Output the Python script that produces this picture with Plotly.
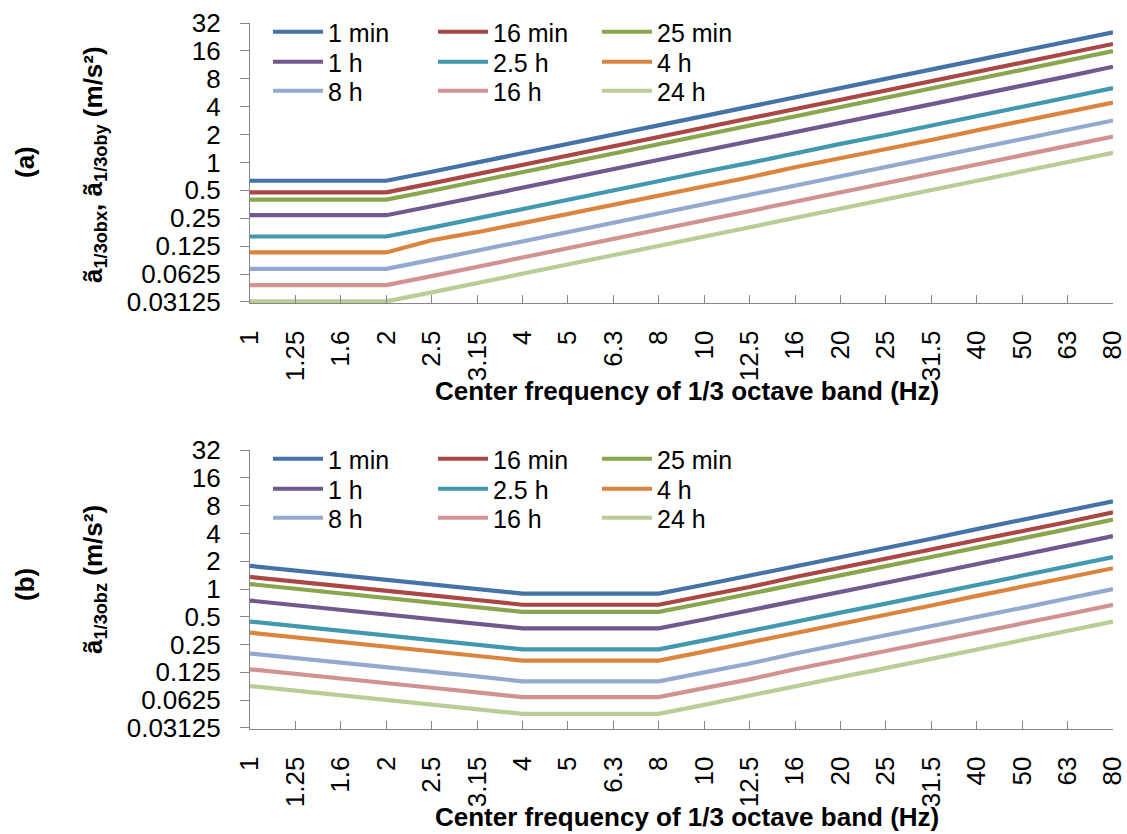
import plotly.graph_objects as go
import math

freq_labels = ["1", "1.25", "1.6", "2", "2.5", "3.15", "4", "5", "6.3", "8",
               "10", "12.5", "16", "20", "25", "31.5", "40", "50", "63", "80"]
series_names = ["1 min", "16 min", "25 min", "1 h", "2.5 h", "4 h", "8 h", "16 h", "24 h"]
colors = ["#4572A7", "#AA4643", "#89A54E", "#71588F", "#4198AF",
          "#DB843D", "#93A9CF", "#D19392", "#B9CD96"]

# Panel (a): horizontal (x, y) reduced-comfort boundaries, m/s^2
a_1min = [0.635, 0.635, 0.635, 0.635, 0.794, 1.0, 1.27, 1.59, 2.0, 2.54, 3.17, 3.97, 5.08, 6.35, 7.94, 10.0, 12.7, 15.9, 20.0, 25.4]
a_16min = [0.476, 0.476, 0.476, 0.476, 0.595, 0.75, 0.952, 1.19, 1.5, 1.9, 2.38, 2.98, 3.81, 4.76, 5.95, 7.5, 9.52, 11.9, 15.0, 19.0]
a_25min = [0.397, 0.397, 0.397, 0.397, 0.496, 0.625, 0.794, 0.99, 1.25, 1.59, 1.98, 2.48, 3.17, 3.97, 4.96, 6.25, 7.94, 9.92, 12.7, 15.9]
a_1h = [0.27, 0.27, 0.27, 0.27, 0.337, 0.425, 0.54, 0.675, 0.85, 1.08, 1.35, 1.69, 2.16, 2.7, 3.37, 4.25, 5.4, 6.75, 8.5, 10.8]
a_2h5 = [0.159, 0.159, 0.159, 0.159, 0.198, 0.25, 0.318, 0.397, 0.5, 0.635, 0.794, 0.99, 1.27, 1.59, 1.98, 2.5, 3.17, 3.97, 5.0, 6.35]
a_4h = [0.107, 0.107, 0.107, 0.107, 0.145, 0.177, 0.222, 0.278, 0.35, 0.444, 0.556, 0.694, 0.889, 1.11, 1.39, 1.75, 2.22, 2.78, 3.5, 4.44]
a_8h = [0.0711, 0.0711, 0.0711, 0.0711, 0.0889, 0.112, 0.142, 0.178, 0.224, 0.284, 0.356, 0.444, 0.569, 0.711, 0.889, 1.12, 1.42, 1.78, 2.24, 2.84]
a_16h = [0.0476, 0.0476, 0.0476, 0.0476, 0.0595, 0.075, 0.0952, 0.119, 0.15, 0.19, 0.238, 0.298, 0.381, 0.476, 0.595, 0.75, 0.952, 1.19, 1.5, 1.9]
a_24h = [0.0317, 0.0317, 0.0317, 0.0317, 0.0397, 0.05, 0.0635, 0.0794, 0.1, 0.127, 0.159, 0.198, 0.254, 0.317, 0.397, 0.5, 0.635, 0.794, 1.0, 1.27]

# Panel (b): vertical (z) reduced-comfort boundaries, m/s^2
b_1min = [1.78, 1.59, 1.41, 1.26, 1.13, 1.0, 0.89, 0.89, 0.89, 0.89, 1.11, 1.39, 1.78, 2.22, 2.78, 3.5, 4.45, 5.56, 7.0, 8.9]
b_16min = [1.35, 1.21, 1.07, 0.955, 0.853, 0.76, 0.675, 0.675, 0.675, 0.675, 0.844, 1.05, 1.35, 1.69, 2.11, 2.66, 3.38, 4.22, 5.32, 6.75]
b_25min = [1.13, 1.01, 0.893, 0.799, 0.714, 0.636, 0.565, 0.565, 0.565, 0.565, 0.706, 0.883, 1.13, 1.41, 1.77, 2.22, 2.83, 3.53, 4.45, 5.65]
b_1h = [0.749, 0.67, 0.592, 0.53, 0.473, 0.422, 0.375, 0.375, 0.375, 0.375, 0.468, 0.585, 0.749, 0.936, 1.17, 1.47, 1.87, 2.34, 2.95, 3.75]
b_2h5 = [0.444, 0.397, 0.351, 0.314, 0.281, 0.25, 0.222, 0.222, 0.222, 0.222, 0.278, 0.347, 0.444, 0.555, 0.694, 0.874, 1.11, 1.39, 1.75, 2.22]
b_4h = [0.337, 0.301, 0.266, 0.238, 0.213, 0.19, 0.168, 0.168, 0.168, 0.168, 0.21, 0.263, 0.337, 0.421, 0.526, 0.663, 0.842, 1.05, 1.33, 1.68]
b_8h = [0.2, 0.179, 0.158, 0.141, 0.126, 0.113, 0.1, 0.1, 0.1, 0.1, 0.125, 0.156, 0.2, 0.25, 0.313, 0.394, 0.5, 0.625, 0.788, 1.0]
b_16h = [0.135, 0.121, 0.107, 0.0955, 0.0853, 0.076, 0.0675, 0.0675, 0.0675, 0.0675, 0.0844, 0.105, 0.135, 0.169, 0.211, 0.266, 0.338, 0.422, 0.532, 0.675]
b_24h = [0.0889, 0.0795, 0.0702, 0.0629, 0.0562, 0.05, 0.0444, 0.0444, 0.0444, 0.0444, 0.0556, 0.0694, 0.0889, 0.111, 0.139, 0.175, 0.222, 0.278, 0.35, 0.444]

y_tickvals = [0.03125, 0.0625, 0.125, 0.25, 0.5, 1, 2, 4, 8, 16, 32]
y_ticktext = ["0.03125", "0.0625", "0.125", "0.25", "0.5", "1", "2", "4", "8", "16", "32"]

panel_a = [a_1min, a_16min, a_25min, a_1h, a_2h5, a_4h, a_8h, a_16h, a_24h]
panel_b = [b_1min, b_16min, b_25min, b_1h, b_2h5, b_4h, b_8h, b_16h, b_24h]

W, H = 1127, 834
FONT = "Liberation Sans, Arial, sans-serif"
fig = go.Figure()


def py(px):
    return 1 - px / H


def px_(px):
    return px / W


for p, (data, xa, ya) in enumerate([(panel_a, "x", "y"), (panel_b, "x2", "y2")]):
    for i, (name, vals) in enumerate(zip(series_names, data)):
        leg = 1 + i + 9 * p
        fig.add_trace(go.Scatter(
            x=freq_labels, y=vals, name=name, mode="lines",
            line=dict(color=colors[i], width=4.2),
            xaxis=xa, yaxis=ya, showlegend=True,
            legend="legend" if leg == 1 else f"legend{leg}",
        ))

ylo = math.log10(0.03125) - 0.012
yhi = math.log10(32)

axis_common_y = dict(
    type="log", range=[ylo, yhi], tickvals=y_tickvals, ticktext=y_ticktext,
    showline=True, linecolor="#868686", linewidth=1.2,
    ticks="outside", ticklen=9, tickcolor="#868686", tickwidth=1.2,
    ticklabelstandoff=14, showgrid=False, zeroline=False,
    tickfont=dict(family=FONT, size=26, color="#000000"),
)
axis_common_x = dict(
    type="category", categoryorder="array", categoryarray=freq_labels,
    range=[0, 19], showline=True, linecolor="#868686", linewidth=1.2,
    ticks="inside", ticklen=8, tickcolor="#868686", tickwidth=1.2,
    tickangle=-90, ticklabelstandoff=16, showgrid=False, zeroline=False,
    tickfont=dict(family=FONT, size=26, color="#000000"),
)

xdom = [px_(250), px_(1113)]
fig.update_layout(
    width=W, height=H, showlegend=True,
    margin=dict(l=0, r=0, t=0, b=0, autoexpand=False),
    paper_bgcolor="white", plot_bgcolor="white",
    font=dict(family=FONT, size=24, color="#000000"),
    xaxis=dict(domain=xdom, anchor="y", **axis_common_x),
    yaxis=dict(domain=[py(303.1), py(23)], anchor="x", **axis_common_y),
    xaxis2=dict(domain=xdom, anchor="y2", **axis_common_x),
    yaxis2=dict(domain=[py(729.1), py(450)], anchor="x2", **axis_common_y),
)

leg_cols = [268, 433, 597]
leg_rows = [[32, 62, 91], [459, 489, 518]]
for p in range(2):
    for i in range(9):
        n = 1 + i + 9 * p
        key = "legend" if n == 1 else f"legend{n}"
        r, c = divmod(i, 3)
        fig.update_layout({key: dict(
            x=px_(leg_cols[c]), y=py(leg_rows[p][r]), xanchor="left", yanchor="middle",
            bgcolor="rgba(0,0,0,0)", borderwidth=0, tracegroupgap=0, visible=True,
            itemwidth=50, font=dict(family=FONT, size=25, color="#000000"),
        )})

annos = [
    dict(text="<b>(a)</b>", x=px_(25), y=py(162), textangle=-90),
    dict(text="<b>ã<sub>1/3obx</sub>, ã<sub>1/3oby</sub> (m/s²)</b>", x=px_(94), y=py(165), textangle=-90),
    dict(text="<b>Center frequency of 1/3 octave band (Hz)</b>", x=px_(687), y=py(391)),
    dict(text="<b>(b)</b>", x=px_(25), y=py(585), textangle=-90),
    dict(text="<b>ã<sub>1/3obz</sub> (m/s²)</b>", x=px_(94), y=py(580), textangle=-90),
    dict(text="<b>Center frequency of 1/3 octave band (Hz)</b>", x=px_(687), y=py(817)),
]
for a in annos:
    fig.add_annotation(xref="paper", yref="paper", showarrow=False,
                       xanchor="center", yanchor="middle",
                       font=dict(family=FONT, size=26, color="#000000"), **a)

fig.write_html("out.html")
